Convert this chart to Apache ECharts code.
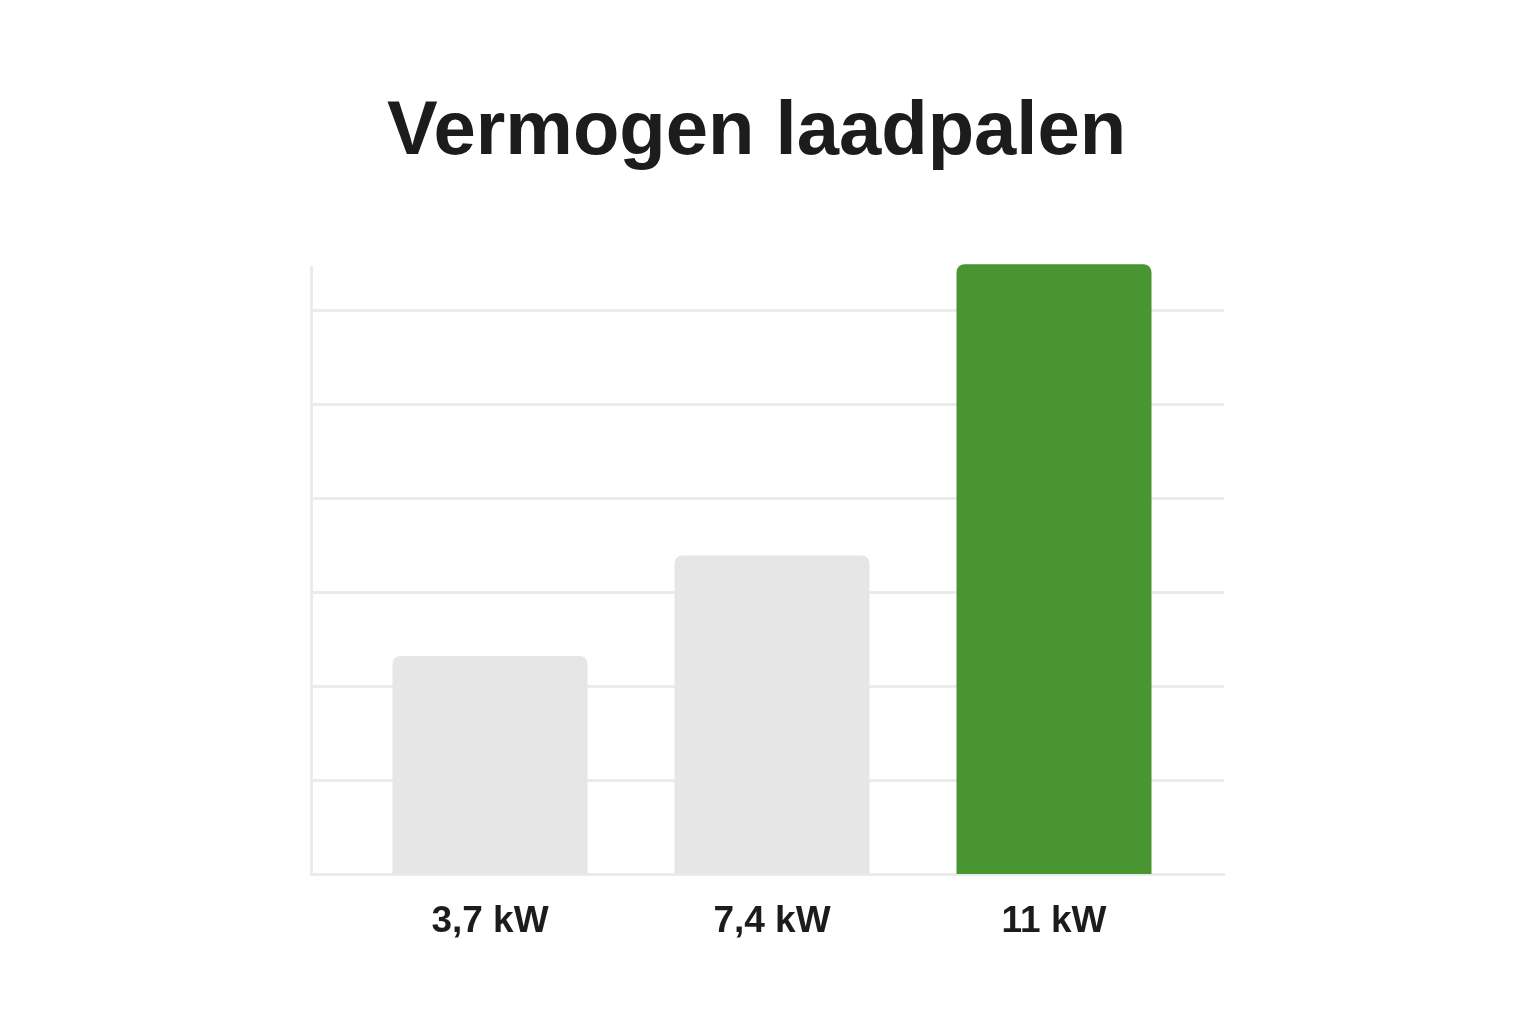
<!DOCTYPE html>
<html>
<head>
<meta charset="utf-8">
<title>Vermogen laadpalen</title>
<script src="https://cdn.jsdelivr.net/npm/echarts@6/dist/echarts.min.js"></script>
<style>
  html, body { margin: 0; padding: 0; background: #fff; }
  #chart { width: 1536px; height: 1024px; }
</style>
</head>
<body>
<div id="chart"></div>
<script>
const categories = ['3,7 kW', '7,4 kW', '11 kW']
// bar heights, in grid units (one grid step = 10)
const heights = [23.2, 33.9, 64.9]
const barColors = ['#e6e6e6', '#e6e6e6', '#489531']

const gridLine = '#ebebeb'
const yMax = 64.6

var myChart = echarts.init(document.getElementById('chart'))
window.onresize = function () {
  myChart.resize()
}

var option = {
  backgroundColor: '#ffffff',
  animation: false,
  title: {
    text: 'Vermogen laadpalen',
    left: 387,
    top: 95,
    padding: 0,
    textStyle: {
      fontFamily: 'Liberation Sans',
      fontSize: 76,
      fontWeight: 'bold',
      color: '#1c1c1c',
    },
  },
  grid: [
    { left: 311, right: 312, top: 267, bottom: 150 },
    { left: 349, right: 341, top: 267, bottom: 150 },
  ],
  xAxis: [
    {
      gridIndex: 0,
      type: 'value',
      min: 0,
      max: 1,
      axisLine: { show: true, lineStyle: { color: gridLine, width: 3 } },
      axisTick: { show: false },
      axisLabel: { show: false },
      splitLine: { show: false },
    },
    {
      gridIndex: 1,
      type: 'category',
      data: categories,
      axisLine: { show: false },
      axisTick: { show: false },
      axisLabel: {
        margin: 29,
        fontFamily: 'Liberation Sans',
        fontSize: 37,
        fontWeight: 'bold',
        color: '#1c1c1c',
      },
    },
  ],
  yAxis: [
    {
      gridIndex: 0,
      type: 'value',
      min: 0,
      max: yMax,
      interval: 10,
      axisLine: { show: true, lineStyle: { color: gridLine, width: 3 } },
      axisTick: { show: false },
      axisLabel: { show: false },
      splitLine: {
        show: true,
        lineStyle: {
          color: [gridLine, gridLine, gridLine, gridLine, gridLine, gridLine, gridLine, 'rgba(0,0,0,0)'],
          width: 3,
        },
      },
    },
    {
      gridIndex: 1,
      type: 'value',
      min: 0,
      max: yMax,
      show: false,
    },
  ],
  series: [
    {
      type: 'bar',
      xAxisIndex: 1,
      yAxisIndex: 1,
      barWidth: 195,
      clip: false,
      data: heights.map((v, i) => {
        return {
          value: v,
          itemStyle: { color: barColors[i], borderRadius: [8, 8, 0, 0] },
        }
      }),
    },
  ],
}

myChart.setOption(option)
</script>
</body>
</html>
